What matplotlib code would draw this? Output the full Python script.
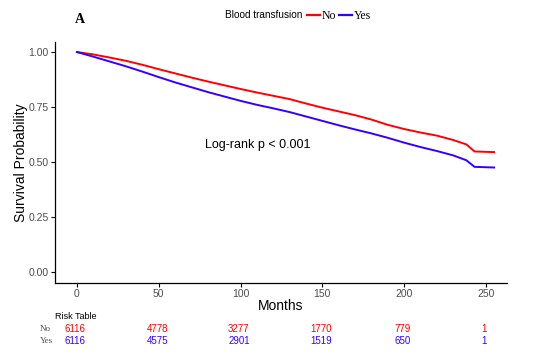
import numpy as np
import matplotlib
matplotlib.use("Agg")
from matplotlib import pyplot as plt
from matplotlib import transforms
from matplotlib.lines import Line2D

# Survival curves
months = [0, 10, 20, 30, 40, 50, 60, 70, 80, 90, 100, 110, 120, 130, 140,
          150, 160, 170, 180, 190, 200, 210, 220, 230, 238, 243, 255]
surv_no = [1.0, 0.989, 0.975, 0.96, 0.942, 0.922, 0.903, 0.884, 0.866, 0.849,
           0.832, 0.816, 0.801, 0.786, 0.766, 0.747, 0.73, 0.713, 0.693, 0.669,
           0.65, 0.634, 0.62, 0.6, 0.58, 0.548, 0.545]
surv_yes = [1.0, 0.979, 0.957, 0.935, 0.911, 0.886, 0.862, 0.84, 0.818, 0.798,
            0.778, 0.76, 0.744, 0.727, 0.707, 0.687, 0.667, 0.648, 0.63, 0.61,
            0.588, 0.568, 0.55, 0.53, 0.508, 0.478, 0.475]

# Risk table
risk_times = [0, 50, 100, 150, 200, 250]
risk_no = [6116, 4778, 3277, 1770, 779, 1]
risk_yes = [6116, 4575, 2901, 1519, 650, 1]

red = "#ff0000"
blue = "#3300ff"
sans = "Liberation Sans"
serif = "Liberation Serif"

fig = plt.figure(figsize=(5.51, 3.54), dpi=100)
ax = fig.add_axes([0.0998, 0.2006, 0.8202, 0.6804])

ax.plot(months, surv_no, color=red, lw=1.4)
ax.plot(months, surv_yes, color=blue, lw=1.4)

ax.set_xlim(-13.4, 262.8)
ax.set_ylim(-0.05, 1.045)
ax.set_xticks([0, 50, 100, 150, 200, 250])
ax.set_yticks([0, 0.25, 0.5, 0.75, 1.0])
ax.set_yticklabels(["0.00", "0.25", "0.50", "0.75", "1.00"])
for s in ["top", "right"]:
    ax.spines[s].set_visible(False)
for s in ["left", "bottom"]:
    ax.spines[s].set_linewidth(0.9)
ax.tick_params(length=3, width=0.8, labelsize=7.5, labelcolor="#4d4d4d", pad=1.5)
for lab in ax.get_xticklabels() + ax.get_yticklabels():
    lab.set_family(sans)

ax.set_xlabel("Months", fontsize=10, family=sans, labelpad=0)
ax.set_ylabel("Survival Probability", fontsize=10, family=sans, labelpad=0)

ax.text(78, 0.565, "Log-rank p < 0.001", fontsize=9, family=sans)

fig.text(0.136, 0.935, "A", fontsize=10, fontweight="bold", family=serif)

# legend
fig.text(0.408, 0.957, "Blood transfusion", fontsize=7.2, family=sans, va="center")
fig.add_artist(Line2D([0.557, 0.581], [0.958, 0.958], color=red, lw=1.6))
fig.text(0.584, 0.955, "No", fontsize=8.5, family=serif, va="center")
fig.add_artist(Line2D([0.615, 0.639], [0.958, 0.958], color=blue, lw=1.6))
fig.text(0.643, 0.955, "Yes", fontsize=8.5, family=serif, va="center")

# risk table
fig.text(0.10, 0.107, "Risk Table", fontsize=6.5, family=sans, va="center")
fig.text(0.073, 0.072, "No", fontsize=6.5, family=serif, color="#4d4d4d", va="center")
fig.text(0.073, 0.038, "Yes", fontsize=6.5, family=serif, color="#4d4d4d", va="center")
trans = transforms.blended_transform_factory(ax.transData, fig.transFigure)
for t, n1, n2 in zip(risk_times, risk_no, risk_yes):
    ax.text(t - 1, 0.072, str(n1), transform=trans, ha="center", va="center",
            fontsize=7, family=sans, color=red, clip_on=False)
    ax.text(t - 1, 0.038, str(n2), transform=trans, ha="center", va="center",
            fontsize=7, family=sans, color=blue, clip_on=False)

fig.savefig("out.png", dpi=100)
